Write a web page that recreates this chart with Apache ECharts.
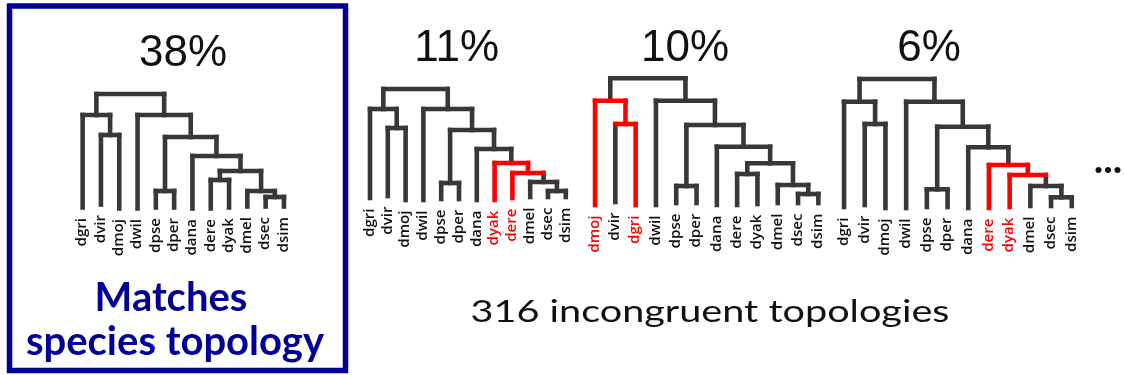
<!DOCTYPE html>
<html>
<head>
<meta charset="utf-8">
<script src="https://cdn.jsdelivr.net/npm/echarts@6/dist/echarts.min.js"></script>
<style>
  html, body { margin: 0; padding: 0; background: #ffffff; }
  #chart { width: 1125px; height: 375px; }
</style>
</head>
<body>
<div id="chart"></div>
<script>
// Share of gene trees showing each topology
const treeShares = [38, 11, 10, 6];

// Leaf order (left to right) of each topology
const leaves1 = ['dgri', 'dvir', 'dmoj', 'dwil', 'dpse', 'dper', 'dana', 'dere', 'dyak', 'dmel', 'dsec', 'dsim'];
const leaves2 = ['dgri', 'dvir', 'dmoj', 'dwil', 'dpse', 'dper', 'dana', 'dyak', 'dere', 'dmel', 'dsec', 'dsim'];
const leaves3 = ['dmoj', 'dvir', 'dgri', 'dwil', 'dpse', 'dper', 'dana', 'dere', 'dyak', 'dmel', 'dsec', 'dsim'];
const leaves4 = ['dgri', 'dvir', 'dmoj', 'dwil', 'dpse', 'dper', 'dana', 'dere', 'dyak', 'dmel', 'dsec', 'dsim'];

// Height at which each leaf branch ends
const tips1 = [1, 4, 0, 0, 1, 1, 0, 0, 1, 2, 2, 2];
const tips2 = [2, 4, 0, 0, 1, 1, 0, 0, 2, 3, 3, 3];
const tips3 = [0, 3, 0, 0, 2, 2, 0, 0, 1, 2, 2, 2];
const tips4 = [1, 3, 0, 0, 1, 1, 0, 0, 1, 2, 2, 2];

// Clades: [id, left child, right child, height of the joining bar]
const clades1 = [
  ['SS', 'dsec', 'dsim', 11.5], ['ML', 'dmel', 'SS', 17.5], ['EY', 'dere', 'dyak', 28.5],
  ['M', 'EY', 'ML', 37.5], ['PS', 'dpse', 'dper', 17.5], ['N', 'dana', 'M', 52.5],
  ['P', 'PS', 'N', 71.5], ['W', 'dwil', 'P', 93.5], ['G2', 'dvir', 'dmoj', 73.5],
  ['G1', 'dgri', 'G2', 93.5], ['root', 'G1', 'W', 114.5]
];
const clades2 = [
  ['SS', 'dsec', 'dsim', 9], ['ML', 'dmel', 'SS', 18], ['B', 'dere', 'ML', 27],
  ['A', 'dyak', 'B', 37], ['PS', 'dpse', 'dper', 17], ['N', 'dana', 'A', 51],
  ['P', 'PS', 'N', 70], ['W', 'dwil', 'P', 91], ['G2', 'dvir', 'dmoj', 72],
  ['G1', 'dgri', 'G2', 91], ['root', 'G1', 'W', 111]
];
const clades3 = [
  ['SS', 'dsec', 'dsim', 11], ['ML', 'dmel', 'SS', 20], ['EY', 'dere', 'dyak', 31],
  ['M', 'EY', 'ML', 41.7], ['PS', 'dpse', 'dper', 19], ['N', 'dana', 'M', 58.3],
  ['P', 'PS', 'N', 80], ['W', 'dwil', 'P', 104.3], ['R2', 'dvir', 'dgri', 81],
  ['R1', 'dmoj', 'R2', 104.3], ['root', 'R1', 'W', 126.7]
];
const clades4 = [
  ['SS', 'dsec', 'dsim', 10.7], ['ML', 'dmel', 'SS', 22], ['B', 'dyak', 'ML', 33],
  ['A', 'dere', 'B', 43], ['PS', 'dpse', 'dper', 18.7], ['N', 'dana', 'A', 60.7],
  ['P', 'PS', 'N', 81.3], ['W', 'dwil', 'P', 106.3], ['G2', 'dvir', 'dmoj', 84],
  ['G1', 'dgri', 'G2', 106.3], ['root', 'G1', 'W', 129]
];

// Branches that differ from the species tree
const redBars1 = [];
const redEdges1 = [];
const redBars2 = ['A', 'B'];
const redEdges2 = ['dyak', 'B', 'dere'];
const redBars3 = ['R1', 'R2'];
const redEdges3 = ['dmoj', 'R2', 'dgri'];
const redBars4 = ['A', 'B'];
const redEdges4 = ['dere', 'B', 'dyak'];

// Text
const speciesCaption = ['Matches', 'species topology'];
const incongruentCaption = '316 incongruent topologies';
const moreMark = '...';

const trees = [
  { leaves: leaves1, tips: tips1, clades: clades1, redBars: redBars1, redEdges: redEdges1 },
  { leaves: leaves2, tips: tips2, clades: clades2, redBars: redBars2, redEdges: redEdges2 },
  { leaves: leaves3, tips: tips3, clades: clades3, redBars: redBars3, redEdges: redEdges3 },
  { leaves: leaves4, tips: tips4, clades: clades4, redBars: redBars4, redEdges: redEdges4 }
];

// Placement of each dendrogram: left edge, width of the 12 leaf slots, baseline
const panels = [
  { left: 73.5, width: 219.6, base: 208.5 },
  { left: 361.1, width: 213.6, base: 200 },
  { left: 584.9, width: 243.6, base: 205 },
  { left: 833.7, width: 248.4, base: 208 }
];
const percentPos = [[183, 54], [456.7, 48.5], [685, 48.5], [929, 48.5]];

const DARK = '#38383a';
const RED = '#ff0000';
const LABEL = '#111111';
const BLUE = '#000099';
const Y_RANGE = 140;

function buildSegments(t) {
  const pos = {};
  const parent = {};
  t.leaves.forEach((n, i) => { pos[n] = { x: i, y: t.tips[i] }; });
  t.clades.forEach(([id, a, b, h]) => {
    pos[id] = { x: (pos[a].x + pos[b].x) / 2, y: h };
    parent[a] = id;
    parent[b] = id;
  });
  const edges = [];
  Object.keys(parent).forEach(n => {
    const p = pos[parent[n]];
    edges.push([pos[n].x, pos[n].y, pos[n].x, p.y, t.redEdges.includes(n) ? 1 : 0]);
  });
  const bars = t.clades.map(([id, a, b, h]) =>
    [pos[a].x, h, pos[b].x, h, t.redBars.includes(id) ? 1 : 0]);
  // vertical branches first, joining bars on top
  return edges.concat(bars);
}

const grids = [], xAxes = [], yAxes = [], series = [];
trees.forEach((t, k) => {
  const pnl = panels[k];
  grids.push({ left: pnl.left, width: pnl.width, top: pnl.base - Y_RANGE, height: Y_RANGE });
  xAxes.push({ type: 'value', gridIndex: k, min: -0.5, max: 11.5, show: false });
  yAxes.push({ type: 'value', gridIndex: k, min: 0, max: Y_RANGE, show: false });

  const segs = buildSegments(t);
  series.push({
    type: 'custom',
    xAxisIndex: k,
    yAxisIndex: k,
    clip: false,
    silent: true,
    data: segs,
    renderItem: function (params, api) {
      const p1 = api.coord([api.value(0), api.value(1)]);
      const p2 = api.coord([api.value(2), api.value(3)]);
      return {
        type: 'line',
        shape: { x1: p1[0], y1: p1[1], x2: p2[0], y2: p2[1] },
        style: { stroke: api.value(4) ? RED : DARK, lineWidth: 4.6, lineCap: 'square' }
      };
    }
  });

  const redLeaves = t.redEdges;
  series.push({
    type: 'custom',
    xAxisIndex: k,
    yAxisIndex: k,
    clip: false,
    silent: true,
    data: t.leaves.map((n, i) => ({ name: n, value: [i, t.tips[i]] })),
    renderItem: function (params, api) {
      const p = api.coord([api.value(0), api.value(1)]);
      const name = t.leaves[params.dataIndex];
      return {
        type: 'text',
        x: p[0],
        y: p[1] + 10.5,
        rotation: Math.PI / 2,
        scaleX: 1.12,
        style: {
          text: name,
          fill: redLeaves.includes(name) ? RED : LABEL,
          font: '600 13.5px "Open Sans", sans-serif',
          align: 'right',
          verticalAlign: 'middle'
        }
      };
    }
  });
});

const graphics = [
  {
    type: 'rect',
    shape: { x: 9.5, y: 6, width: 336, height: 364.5 },
    style: { fill: null, stroke: BLUE, lineWidth: 5.5 }
  },
  {
    type: 'text', x: 171, y: 298.5,
    style: { text: speciesCaption[0], fill: BLUE, font: 'bold 40px Lato, sans-serif', align: 'center', verticalAlign: 'middle' }
  },
  {
    type: 'text', x: 175, y: 342,
    style: { text: speciesCaption[1], fill: BLUE, font: 'bold 40px Lato, sans-serif', align: 'center', verticalAlign: 'middle' }
  },
  {
    type: 'text', x: 710, y: 312, scaleX: 1.32,
    style: { text: incongruentCaption, fill: '#111111', font: '30px Lato, sans-serif', align: 'center', verticalAlign: 'middle' }
  },
  {
    type: 'text', x: 1108, y: 160,
    style: { text: moreMark, fill: '#111111', font: 'bold 40px Lato, sans-serif', align: 'center', verticalAlign: 'middle' }
  }
];
treeShares.forEach((s, k) => {
  graphics.push({
    type: 'text', x: percentPos[k][0], y: percentPos[k][1],
    style: { text: s + '%', fill: '#111111', font: '44px "Liberation Sans", Arial, sans-serif', align: 'center', verticalAlign: 'middle' }
  });
});

const chart = echarts.init(document.getElementById('chart'));
chart.setOption({
  backgroundColor: '#ffffff',
  animation: false,
  grid: grids,
  xAxis: xAxes,
  yAxis: yAxes,
  series: series,
  graphic: { elements: graphics }
});
</script>
</body>
</html>
